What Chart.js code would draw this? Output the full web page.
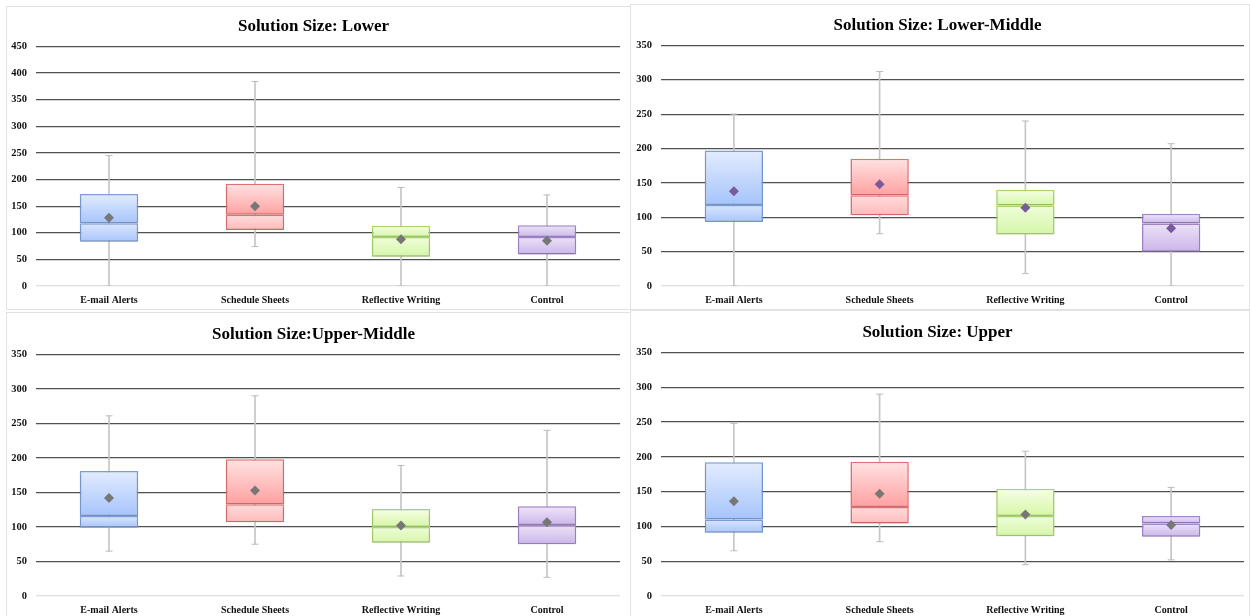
<!DOCTYPE html>
<html>
<head>
<meta charset="utf-8">
<script src="https://cdn.jsdelivr.net/npm/chart.js@4.4.1/dist/chart.umd.min.js"></script>
<style>
  html, body { margin: 0; padding: 0; background: #fff; }
  body { width: 1250px; height: 616px; position: relative; overflow: hidden; }
  .panel { position: absolute; box-sizing: border-box; border: 1px solid #e2e2e2; background: #fff; }
  .panel canvas { display: block; }
</style>
</head>
<body>
<div class="panel" style="left:6px; top:6px; width:625px; height:304px;"><canvas id="c1"></canvas></div>
<div class="panel" style="left:630px; top:4px; width:620px; height:306px;"><canvas id="c2"></canvas></div>
<div class="panel" style="left:6px; top:312px; width:625px; height:306px;"><canvas id="c3"></canvas></div>
<div class="panel" style="left:630px; top:310px; width:620px; height:308px;"><canvas id="c4"></canvas></div>
<script>
// Interventions compared in every panel
const categories = ['E-mail Alerts', 'Schedule Sheets', 'Reflective Writing', 'Control'];

// Solution size: Lower
const lowerMin    = [0, 74, 0, 0];
const lowerQ1     = [83, 105, 55, 59];
const lowerMedian = [118, 134, 92, 92];
const lowerQ3     = [173, 192, 113, 114];
const lowerMax    = [245, 384, 185, 171];
const lowerMean   = [128, 150, 88, 85];

// Solution size: Lower-Middle
const lowMidMin    = [0, 76, 18, 0];
const lowMidQ1     = [93, 103, 75, 50];
const lowMidMedian = [118, 132, 117, 91];
const lowMidQ3     = [197, 185, 140, 105];
const lowMidMax    = [250, 312, 240, 207];
const lowMidMean   = [138, 148, 114, 84];

// Solution size: Upper-Middle
const upMidMin    = [65, 75, 29, 27];
const upMidQ1     = [99, 107, 77, 75];
const upMidMedian = [116, 133, 100, 103];
const upMidQ3     = [181, 198, 126, 130];
const upMidMax    = [261, 290, 189, 240];
const upMidMean   = [142, 153, 102, 107];

// Solution size: Upper
const upperMin    = [65, 78, 45, 52];
const upperQ1     = [91, 104, 86, 85];
const upperMedian = [110, 128, 115, 104];
const upperQ3     = [192, 193, 154, 115];
const upperMax    = [248, 290, 208, 156];
const upperMean   = [136, 147, 117, 102];

// Box colours per category: [top of gradient, bottom of gradient]
const boxUpperFill = [
  ['#e3ecff', '#a6c4fb'],
  ['#ffe3e3', '#ffa0a0'],
  ['#f6ffe6', '#d7f6a6'],
  ['#efe7f9', '#cbb6ea']
];
const boxLowerFill = [
  ['#dbe7fe', '#a8c5fa'],
  ['#ffdcdc', '#ffbaba'],
  ['#effed9', '#d6f5aa'],
  ['#ece3f8', '#cab5ea']
];
const boxOutline = ['#7c9fdc', '#e27171', '#aad56f', '#a587cc'];

const serif = '"Liberation Serif", "Times New Roman", serif';

function gradientFill(stops) {
  return (ctx) => {
    const chart = ctx.chart;
    const y = chart.scales.y;
    if (ctx.type !== 'data' || !chart.chartArea || !y || !Array.isArray(ctx.raw)) return stops[ctx.dataIndex][1];
    const top = y.getPixelForValue(Math.max(ctx.raw[0], ctx.raw[1]));
    const bot = y.getPixelForValue(Math.min(ctx.raw[0], ctx.raw[1]));
    const g = chart.ctx.createLinearGradient(0, top, 0, bot);
    g.addColorStop(0, stops[ctx.dataIndex][0]);
    g.addColorStop(1, stops[ctx.dataIndex][1]);
    return g;
  };
}

function pairs(a, b) { return a.map((v, i) => [v, b[i]]); }

// Soft drop shadow under the boxes
const boxShadow = {
  id: 'boxShadow',
  beforeDatasetDraw(chart, args) {
    if (args.meta.type !== 'bar' || args.meta.controller.getDataset().label === 'Range') return;
    chart.ctx.save();
    chart.ctx.shadowColor = 'rgba(0,0,0,0.18)';
    chart.ctx.shadowBlur = 3;
    chart.ctx.shadowOffsetY = 1.5;
  },
  afterDatasetDraw(chart, args) {
    if (args.meta.type !== 'bar' || args.meta.controller.getDataset().label === 'Range') return;
    chart.ctx.restore();
  }
};

function makeBoxPlot(cfg, mins, q1, med, q3, maxs, means) {
  const canvas = document.getElementById(cfg.id);
  canvas.width = cfg.w; canvas.height = cfg.h;
  canvas.style.width = cfg.w + 'px'; canvas.style.height = cfg.h + 'px';
  new Chart(canvas, {
    data: {
      labels: categories,
      datasets: [
        {
          type: 'line', label: 'Mean', data: means, showLine: false,
          pointStyle: 'rectRot', pointRadius: 5, pointHoverRadius: 5,
          pointBackgroundColor: cfg.meanColor, pointBorderWidth: 0, order: 0
        },
        {
          type: 'line', label: 'Max', data: maxs, showLine: false,
          pointStyle: 'line', pointRadius: 3.5, pointBorderColor: '#bdbdbd', pointBorderWidth: 1, order: 1
        },
        {
          type: 'line', label: 'Min', data: mins, showLine: false,
          pointStyle: 'line', pointRadius: 3.5, pointBorderColor: '#bdbdbd', pointBorderWidth: 1, order: 1
        },
        {
          type: 'bar', label: 'Q3', data: pairs(med, q3), grouped: false,
          backgroundColor: gradientFill(boxUpperFill), borderColor: boxOutline,
          borderWidth: 1.5, borderSkipped: false, categoryPercentage: 1, barPercentage: 0.4, order: 2
        },
        {
          type: 'bar', label: 'Q1', data: pairs(q1, med), grouped: false,
          backgroundColor: gradientFill(boxLowerFill), borderColor: boxOutline,
          borderWidth: 1.5, borderSkipped: false, categoryPercentage: 1, barPercentage: 0.4, order: 3
        },
        {
          type: 'bar', label: 'Range', data: pairs(mins, maxs), grouped: false,
          backgroundColor: '#c6c6c6', borderWidth: 0, barThickness: 1, order: 4
        }
      ]
    },
    plugins: [boxShadow],
    options: {
      responsive: false,
      animation: false,
      events: [],
      layout: { padding: { left: 0, right: cfg.padRight, top: cfg.padTop, bottom: 0 } },
      plugins: {
        legend: { display: false },
        tooltip: { enabled: false },
        title: {
          display: true, text: cfg.title, color: '#000',
          font: { family: serif, size: 17, weight: 'bold' },
          padding: { top: 9, bottom: 10 }
        }
      },
      scales: {
        x: {
          grid: { display: false },
          border: { display: false },
          afterFit: (s) => { s.height = cfg.axisH; },
          ticks: { color: '#111', font: { family: serif, size: 10, weight: 'bold' }, padding: 0, maxRotation: 0 }
        },
        y: {
          min: 0, max: cfg.yMax,
          border: { display: false },
          afterFit: (s) => { s.width = cfg.axisW; },
          grid: {
            color: (c) => c.tick && c.tick.value === 0 ? '#dedede' : '#505050',
            lineWidth: 1.2, drawTicks: false
          },
          ticks: { stepSize: 50, color: '#111', font: { family: serif, size: 10.5, weight: 'bold' }, padding: 9 }
        }
      }
    }
  });
}

makeBoxPlot({ id: 'c1', w: 623, h: 302, title: 'Solution Size: Lower', yMax: 450,
  padTop: 0, padRight: 10, axisW: 29, axisH: 23, meanColor: '#777777' },
  lowerMin, lowerQ1, lowerMedian, lowerQ3, lowerMax, lowerMean);
makeBoxPlot({ id: 'c2', w: 618, h: 304, title: 'Solution Size: Lower-Middle', yMax: 350,
  padTop: 1, padRight: 5, axisW: 30, axisH: 23, meanColor: '#7b5a9c' },
  lowMidMin, lowMidQ1, lowMidMedian, lowMidQ3, lowMidMax, lowMidMean);
makeBoxPlot({ id: 'c3', w: 623, h: 304, title: 'Solution Size:Upper-Middle', yMax: 350,
  padTop: 2, padRight: 10, axisW: 29, axisH: 21, meanColor: '#777777' },
  upMidMin, upMidQ1, upMidMedian, upMidQ3, upMidMax, upMidMean);
makeBoxPlot({ id: 'c4', w: 618, h: 306, title: 'Solution Size: Upper', yMax: 350,
  padTop: 2, padRight: 5, axisW: 30, axisH: 21, meanColor: '#777777' },
  upperMin, upperQ1, upperMedian, upperQ3, upperMax, upperMean);
</script>
</body>
</html>
